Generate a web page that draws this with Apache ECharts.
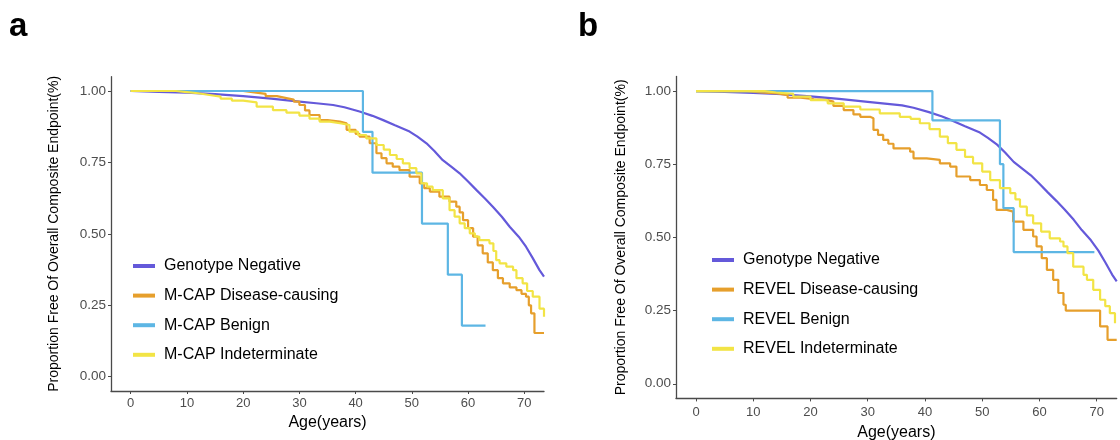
<!DOCTYPE html>
<html>
<head>
<meta charset="utf-8">
<script src="https://cdn.jsdelivr.net/npm/echarts@6/dist/echarts.min.js"></script>
<style>
html,body{margin:0;padding:0;background:#fff;}
#chart{width:1120px;height:440px;}
</style>
</head>
<body>
<div id="chart"></div>
<script>
// ---------- data ----------
const xTicks = [0, 10, 20, 30, 40, 50, 60, 70];
const yTicks = [0, 0.25, 0.5, 0.75, 1];
const panelLabels = ['a', 'b'];
const legendA = ['Genotype Negative', 'M-CAP Disease-causing', 'M-CAP Benign', 'M-CAP Indeterminate'];
const legendB = ['Genotype Negative', 'REVEL Disease-causing', 'REVEL Benign', 'REVEL Indeterminate'];

// [age, survival]
const genotypeNegative = [[0,1],[5,0.997],[10,0.994],[15,0.989],[20,0.982],[25,0.973],[30,0.963],[33,0.957],[36,0.951],[38,0.943],[40.7,0.928],[43,0.913],[44.9,0.898],[47,0.880],[49.6,0.858],[51,0.840],[52.6,0.817],[54,0.790],[55.5,0.758],[57,0.735],[58.5,0.712],[60,0.683],[61.5,0.653],[63,0.624],[64.4,0.595],[66,0.560],[67.4,0.525],[69,0.490],[70.3,0.455],[71.5,0.415],[72.7,0.373],[73.5,0.35]];

const mcapDisease = [[0,1],[19,1],[20,0.995],[22,0.99],[24,0.982],[26,0.976],[27.5,0.97],[29,0.963],[30,0.951],[31,0.932],[31.8,0.916],[33.6,0.898],[35,0.893],[37.2,0.887],[38.4,0.864],[40,0.85],[40.7,0.84],[42.5,0.817],[43.7,0.782],[44.6,0.765],[45.5,0.747],[46.6,0.735],[47.8,0.723],[49.6,0.70],[51.4,0.677],[52.2,0.66],[53.2,0.648],[54.9,0.630],[56.7,0.613],[57.9,0.595],[58.5,0.575],[59.1,0.548],[60,0.52],[60.9,0.49],[61.7,0.46],[62.6,0.432],[63.5,0.40],[64.4,0.373],[65.3,0.345],[66.2,0.327],[67.4,0.313],[68.6,0.303],[69.5,0.29],[70.3,0.280],[70.8,0.25],[71.2,0.222],[71.8,0.153],[73.5,0.153]];

const mcapBenign = [[0,1],[41.3,0.857],[43.0,0.714],[51.8,0.536],[56.4,0.357],[58.9,0.179],[63.1,0.179]];

const mcapIndeterminate = [[0,1],[6,1],[8,0.996],[10,0.992],[12,0.986],[14,0.980],[16,0.973],[18,0.966],[20,0.960],[22.4,0.945],[25.3,0.933],[27.7,0.924],[30,0.914],[31.8,0.903],[33.6,0.893],[35.4,0.887],[37.2,0.881],[38.9,0.858],[40.4,0.846],[41.9,0.834],[43.7,0.811],[45,0.795],[46.1,0.776],[47.3,0.762],[48.4,0.747],[49.6,0.73],[50.8,0.712],[51.7,0.677],[52.7,0.665],[53.7,0.653],[55.5,0.624],[56.7,0.583],[57.6,0.56],[58.5,0.537],[59.4,0.52],[60.3,0.502],[61.2,0.49],[62.0,0.478],[63.8,0.467],[64.5,0.44],[65.0,0.408],[65.6,0.397],[66.8,0.385],[68.0,0.373],[68.6,0.345],[69.7,0.327],[70.5,0.30],[71.5,0.28],[72.7,0.238],[73.5,0.21]];

const revelDisease = [[0,1],[8,1],[9,0.995],[11.3,0.992],[14.2,0.986],[16,0.977],[18.3,0.972],[20.6,0.969],[23,0.964],[24,0.949],[25.8,0.935],[27.5,0.92],[28.7,0.912],[30.4,0.907],[31,0.867],[31.8,0.85],[32.7,0.833],[33.6,0.82],[34.5,0.804],[37.4,0.793],[38.0,0.770],[40.3,0.765],[42.6,0.753],[44.4,0.742],[45.5,0.708],[47.9,0.696],[49.6,0.679],[50.8,0.662],[51.9,0.628],[52.5,0.594],[54.3,0.588],[55.4,0.554],[57.2,0.526],[58.9,0.503],[59.5,0.469],[60.4,0.429],[61.3,0.389],[62.4,0.355],[63.3,0.310],[64.2,0.270],[64.6,0.250],[70.6,0.196],[71.9,0.150],[73.5,0.150]];

const revelBenign = [[0,1],[41.3,0.90],[53.1,0.75],[53.7,0.60],[55.5,0.45],[69.6,0.45]];

const revelIndeterminate = [[0,1],[10,1],[12,0.995],[14,0.99],[17,0.981],[20,0.969],[23,0.958],[25.8,0.947],[28.7,0.937],[32.1,0.924],[35.6,0.912],[37.5,0.905],[39.1,0.89],[40.8,0.87],[42.6,0.844],[44,0.822],[45.5,0.799],[47,0.775],[48.4,0.753],[50,0.725],[51.4,0.696],[53.1,0.668],[54.9,0.651],[55.8,0.63],[56.6,0.605],[57.8,0.575],[58.9,0.548],[60.3,0.52],[61.8,0.497],[63.6,0.486],[64.2,0.469],[64.9,0.446],[65.9,0.40],[67.7,0.372],[68.3,0.355],[69.4,0.321],[70.6,0.287],[71.5,0.265],[72.3,0.241],[73.2,0.207]];

// ---------- styles ----------
const C_NEG = '#6459DA';
const C_DIS = '#E69F2C';
const C_BEN = '#5DB6E4';
const C_IND = '#F2E445';
const AXIS_COLOR = '#4a4a4a';
const FONT = 'Liberation Sans, Arial, Helvetica, sans-serif';

function xAxisCfg(gridIndex, max, nameGap, margin) {
  return {
    gridIndex: gridIndex, type: 'value', min: -3.5, max: max,
    splitLine: {show: false},
    axisLine: {show: true, onZero: false, lineStyle: {color: AXIS_COLOR, width: 1.3}},
    axisTick: {show: true, length: 3, lineStyle: {color: AXIS_COLOR, width: 1}, customValues: xTicks},
    axisLabel: {color: '#4d4d4d', fontSize: 13, fontFamily: FONT, margin: margin, customValues: xTicks},
    name: 'Age(years)', nameLocation: 'middle', nameGap: nameGap,
    nameTextStyle: {color: '#000', fontSize: 16, fontFamily: FONT}
  };
}
function yAxisCfg(gridIndex, nameGap) {
  return {
    gridIndex: gridIndex, type: 'value', min: -0.05, max: 1.05,
    splitLine: {show: false},
    axisLine: {show: true, onZero: false, lineStyle: {color: AXIS_COLOR, width: 1.3}},
    axisTick: {show: true, length: 3, lineStyle: {color: AXIS_COLOR, width: 1}, customValues: yTicks},
    axisLabel: {color: '#4d4d4d', fontSize: 13.5, fontFamily: FONT, margin: 5, customValues: yTicks,
      formatter: function (v) { return v.toFixed(2); }},
    name: 'Proportion Free Of Overall Composite Endpoint(%)', nameLocation: 'middle', nameGap: nameGap,
    nameTextStyle: {color: '#000', fontSize: 14, fontFamily: FONT}
  };
}
function line(name, data, color, idx, step) {
  return {
    name: name, type: 'line', data: data, xAxisIndex: idx, yAxisIndex: idx,
    step: step ? 'end' : false, showSymbol: false, symbol: 'none', smooth: false,
    lineStyle: {color: color, width: 2.2}, itemStyle: {color: color},
    emphasis: {disabled: true}, animation: false
  };
}
function legendCfg(data, left, top) {
  return {
    data: data, orient: 'vertical', left: left, top: top, padding: 0,
    icon: 'rect', itemWidth: 22, itemHeight: 4, itemGap: 9.6, selectedMode: false,
    textStyle: {fontSize: 16, fontFamily: FONT, color: '#000', lineHeight: 20, padding: [0, 0, 0, 4]}
  };
}

const chart = echarts.init(document.getElementById('chart'), null, {renderer: 'canvas'});
chart.setOption({
  backgroundColor: '#fff',
  animation: false,
  title: [
    {text: panelLabels[0], left: 9, top: 10, padding: 0, textStyle: {fontSize: 33, fontWeight: 'bold', fontFamily: FONT, color: '#000'}},
    {text: panelLabels[1], left: 578, top: 10, padding: 0, textStyle: {fontSize: 33, fontWeight: 'bold', fontFamily: FONT, color: '#000'}}
  ],
  legend: [legendCfg(legendA, 133, 256), legendCfg(legendB, 712, 250)],
  grid: [
    {left: 111, top: 76.7, width: 433, height: 314.3, containLabel: false, outerBoundsMode: 'none'},
    {left: 676, top: 76.4, width: 440.7, height: 322, containLabel: false, outerBoundsMode: 'none'}
  ],
  xAxis: [xAxisCfg(0, 73.5, 23, 6), xAxisCfg(1, 73.5, 24, 8)],
  yAxis: [yAxisCfg(0, 50), yAxisCfg(1, 48)],
  series: [
    line(legendA[0], genotypeNegative, C_NEG, 0, false),
    line(legendA[1], mcapDisease, C_DIS, 0, true),
    line(legendA[2], mcapBenign, C_BEN, 0, true),
    line(legendA[3], mcapIndeterminate, C_IND, 0, true),
    line(legendB[0], genotypeNegative, C_NEG, 1, false),
    line(legendB[1], revelDisease, C_DIS, 1, true),
    line(legendB[2], revelBenign, C_BEN, 1, true),
    line(legendB[3], revelIndeterminate, C_IND, 1, true)
  ]
});
</script>
</body>
</html>
